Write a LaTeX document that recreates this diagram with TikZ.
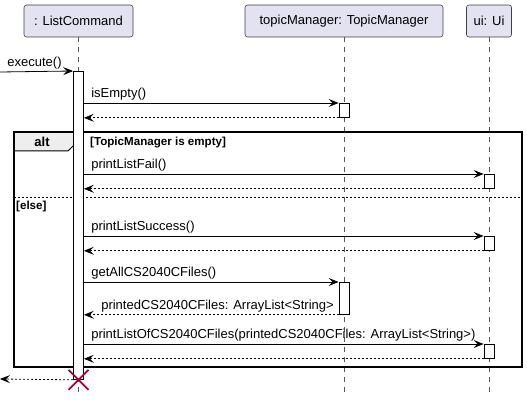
\documentclass[tikz,border=0pt]{standalone}
\usepackage{fontspec}
\setmainfont{Liberation Sans}
\usetikzlibrary{arrows.meta}
\definecolor{partfill}{HTML}{E2E2F0}
\definecolor{tabfill}{HTML}{EEEEEE}
\definecolor{crossred}{HTML}{A80036}
\begin{document}
\begin{tikzpicture}[x=1pt,y=-1pt,
  part/.style={draw=black!75,line width=0.6pt,fill=partfill,rounded corners=2.5pt,minimum height=32pt,inner sep=0pt,font=\fontsize{13}{15}\selectfont},
  life/.style={draw=black!65,line width=0.6pt,dash pattern=on 5pt off 5pt},
  act/.style={draw=black,fill=white,line width=0.8pt,minimum width=10pt,inner sep=0pt,anchor=north},
  call/.style={-{Stealth[length=10pt,width=8pt,inset=4pt]},line width=0.8pt},
  ret/.style={call,dash pattern=on 2pt off 2pt},
  lbl/.style={anchor=base west,inner sep=0pt,yshift=5.5pt,font=\fontsize{13}{15}\selectfont},
  cond/.style={anchor=base west,inner sep=0pt,font=\fontsize{11.6}{13}\selectfont\bfseries}]
\useasboundingbox (0,0) rectangle (527,403);
\node[part,minimum width=109pt] (lc) at (78.5,21) {: ListCommand};
\node[part,minimum width=198pt] (tm) at (344,21) {topicManager: TopicManager};
\node[part,minimum width=45pt] (ui) at (489,21) {ui: Ui};
\coordinate (bot) at (0,393);
\draw[life] (lc.south) -- (lc.south |- bot);
\draw[life] (tm.south) -- (tm.south |- bot);
\draw[life] (ui.south) -- (ui.south |- bot);

\draw[fill=tabfill,line width=1pt] (14,132) -- (76,132) -- (76,143) -- (68,151) -- (14,151) -- cycle;
\draw[line width=1.5pt] (14,132) rectangle (522,367);
\node[anchor=base,inner sep=0pt,font=\fontsize{13}{15}\selectfont\bfseries] (alt) at (42,146.5) {alt};
\node[cond] (c1) at (90,146) {[TopicManager is empty]};
\draw[line width=0.8pt,dash pattern=on 2pt off 2pt] (14,197) -- (522,197);
\node[cond] (c2) at (16,210) {[else]};

\node[act,minimum height=308pt] (lca) at (78.5,71) {};
\node[act,minimum height=14pt] (tma1) at (344,103) {};
\node[act,minimum height=14pt] (uia1) at (489,174) {};
\node[act,minimum height=14pt] (uia2) at (489,236) {};
\node[act,minimum height=32pt] (tma2) at (344,282) {};
\node[act,minimum height=14pt] (uia3) at (489,344) {};

\coordinate (start) at (0,72);
\draw[call] (start) -- (lca.north west) node[lbl,pos=0,xshift=7pt] {execute()};
\draw[call] (lca.east |- tma1.north) -- (tma1.north west) node[lbl,pos=0,xshift=7pt] {isEmpty()};
\draw[ret] (tma1.south west) -- (lca.east |- tma1.south);
\draw[call] (lca.east |- uia1.north) -- (uia1.north west) node[lbl,pos=0,xshift=7pt] {printListFail()};
\draw[ret] (uia1.south west) -- (lca.east |- uia1.south);
\draw[call] (lca.east |- uia2.north) -- (uia2.north west) node[lbl,pos=0,xshift=7pt] {printListSuccess()};
\draw[ret] (uia2.south west) -- (lca.east |- uia2.south);
\draw[call] (lca.east |- tma2.north) -- (tma2.north west) node[lbl,pos=0,xshift=7pt] {getAllCS2040CFiles()};
\draw[ret] (tma2.south west) -- (lca.east |- tma2.south) node[lbl,pos=1,xshift=17pt] {printedCS2040CFiles: ArrayList<String>};
\draw[call] (lca.east |- uia3.north) -- (uia3.north west) node[lbl,pos=0,xshift=7pt] {printListOfCS2040CFiles(printedCS2040CFiles: ArrayList<String>)};
\draw[ret] (uia3.south west) -- (lca.east |- uia3.south);
\coordinate (stop) at (0,379);
\draw[ret] (lca.south west) -- (stop);
\draw[crossred,line width=1.8pt] ([shift={(-10,-10)}]lca.south) -- ([shift={(10,10)}]lca.south)
  ([shift={(-10,10)}]lca.south) -- ([shift={(10,-10)}]lca.south);
\end{tikzpicture}
\end{document}
